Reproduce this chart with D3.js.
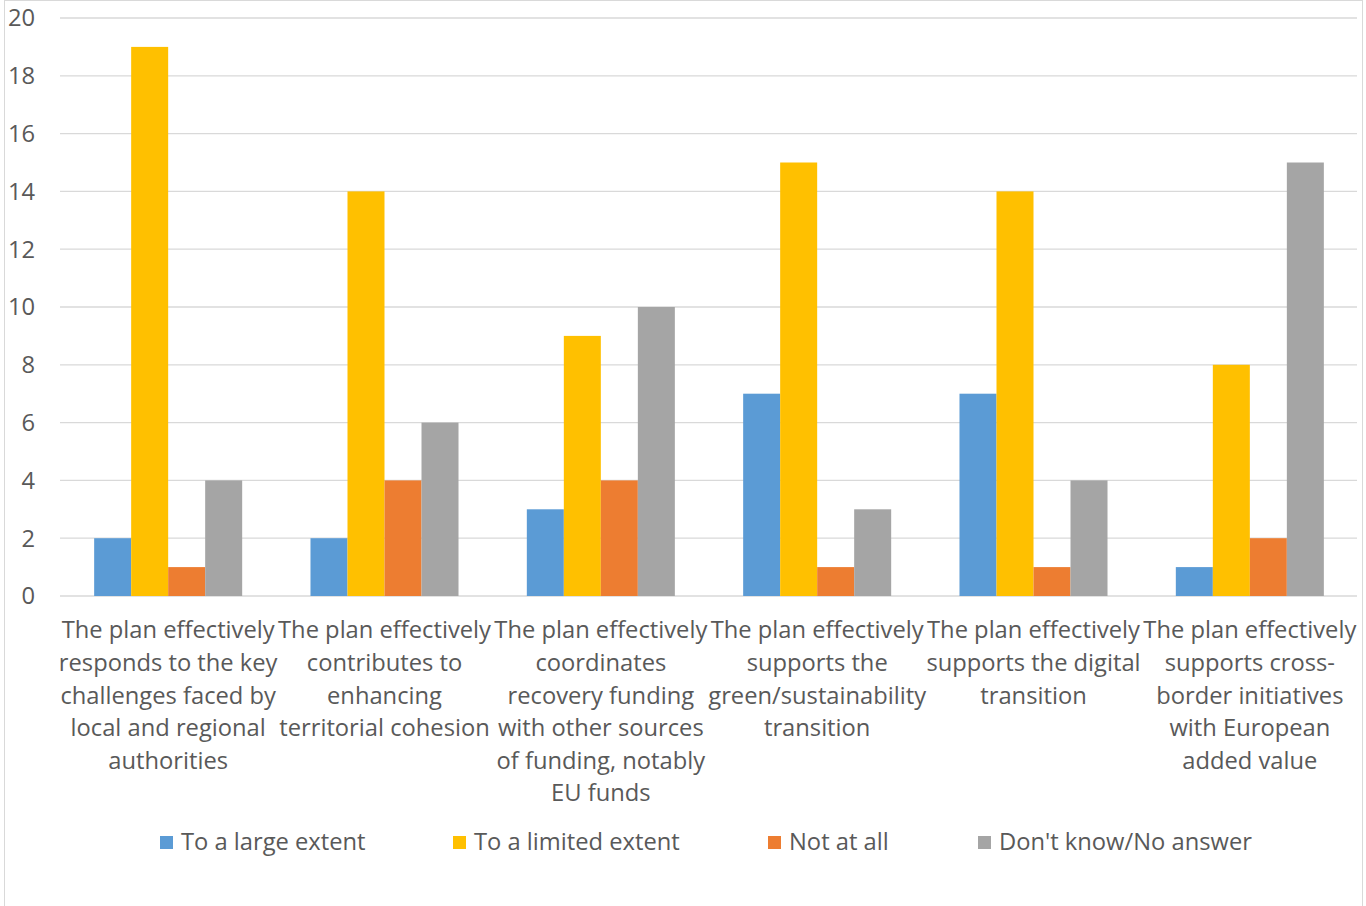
<!DOCTYPE html>
<html><head><meta charset="utf-8">
<script src="https://cdn.jsdelivr.net/npm/d3@7"></script>
<style>body{margin:0;background:#fff}svg{display:block}</style>
</head><body>
<svg id="c" width="1366" height="906"></svg>
<script>
const categories = [
  ["The plan effectively","responds to the key","challenges faced by","local and regional","authorities"],
  ["The plan effectively","contributes to","enhancing","territorial cohesion"],
  ["The plan effectively","coordinates","recovery funding","with other sources","of funding, notably","EU funds"],
  ["The plan effectively","supports the","green/sustainability","transition"],
  ["The plan effectively","supports the digital","transition"],
  ["The plan effectively","supports cross-","border initiatives","with European","added value"]
];
const seriesNames = ["To a large extent","To a limited extent","Not at all","Don't know/No answer"];
const largeExtent = [2,2,3,7,7,1];
const limitedExtent = [19,14,9,15,14,8];
const notAtAll = [1,4,4,1,1,2];
const dontKnow = [4,6,10,3,4,15];
const yTicks = [0,2,4,6,8,10,12,14,16,18,20];
const colors = ["#5B9BD5","#FFC000","#ED7D31","#A5A5A5"];

const series = [largeExtent, limitedExtent, notAtAll, dontKnow];
const svg = d3.select("#c");
const font = "'Open Sans', sans-serif";
const txt = "#595959";

// calibrate font size so "The plan effectively" is ~213px wide
const probe = svg.append("text").attr("font-family",font).attr("font-size",20).text("The plan effectively");
const w = probe.node().getComputedTextLength();
probe.remove();
const fs = 20 * 213 / w;

svg.append("rect").attr("x",4.5).attr("y",0.5).attr("width",1358).attr("height",920)
  .attr("fill","#fff").attr("stroke","#d9d9d9");

const catW = (1358-60)/categories.length;
const xc = d3.scaleBand().domain(d3.range(categories.length)).range([60,1358]).padding(0);
const xb = d3.scaleBand().domain(d3.range(4)).range([0, catW]).paddingOuter(0.923).paddingInner(0);
const y = d3.scaleLinear().domain([0,20]).range([596,18]);

// gridlines
svg.append("g").selectAll("line").data(yTicks).join("line")
  .attr("x1",60).attr("x2",1357).attr("y1",d=>y(d)).attr("y2",d=>y(d))
  .attr("stroke","#d9d9d9").attr("stroke-width",1.3);

// y tick labels
svg.append("g").selectAll("text").data(yTicks).join("text")
  .attr("x",35).attr("y",d=>y(d)).attr("dy","0.35em").attr("text-anchor","end")
  .attr("font-family",font).attr("font-size",fs).attr("fill",txt).text(d=>d);

// bars
series.forEach((s,si)=>{
  svg.append("g").selectAll("rect").data(s).join("rect")
    .attr("x",(d,i)=>xc(i)+xb(si)).attr("width",xb.bandwidth())
    .attr("y",d=>y(d)).attr("height",d=>y(0)-y(d)).attr("fill",colors[si]);
});

// category labels
categories.forEach((lines,i)=>{
  const t = svg.append("text").attr("text-anchor","middle")
    .attr("font-family",font).attr("font-size",fs).attr("fill",txt);
  lines.forEach((l,j)=>{
    t.append("tspan").attr("x",xc(i)+catW/2).attr("y",630+j*32.6).attr("dy","0.35em").text(l);
  });
});

// legend
const legX = [160,453,768,978];
seriesNames.forEach((n,i)=>{
  svg.append("rect").attr("x",legX[i]).attr("y",836).attr("width",13).attr("height",13).attr("fill",colors[i]);
  svg.append("text").attr("x",legX[i]+21).attr("y",842).attr("dy","0.35em")
    .attr("font-family",font).attr("font-size",fs).attr("fill",txt).text(n);
});
</script>
</body></html>
